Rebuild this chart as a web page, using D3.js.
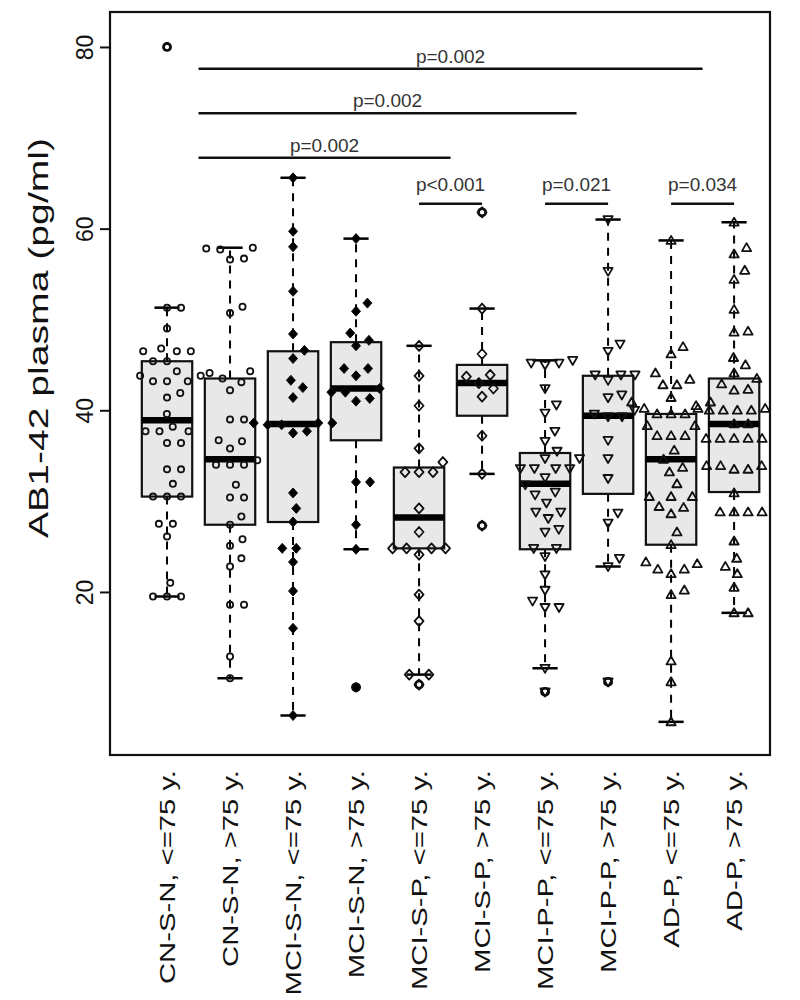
<!DOCTYPE html>
<html><head><meta charset="utf-8">
<script src="https://cdn.jsdelivr.net/npm/d3@7"></script>
<style>body{margin:0;background:#fff} svg{display:block}</style>
</head><body><svg id="c" width="800" height="1000"></svg>
<script>
// ---------------- DATA ----------------
const categories = ["CN-S-N, <=75 y.","CN-S-N, >75 y.","MCI-S-N, <=75 y.","MCI-S-N, >75 y.","MCI-S-P, <=75 y.","MCI-S-P, >75 y.","MCI-P-P, <=75 y.","MCI-P-P, >75 y.","AD-P, <=75 y.","AD-P, >75 y."];
const yTicks = [20, 40, 60, 80];
const yTitle = "AB1-42 plasma (pg/ml)";

const q1 =          [30.5, 27.4, 27.7, 36.7, 24.8, 39.4, 24.7, 30.8, 25.2, 31.0];
const medians =     [38.9, 34.6, 38.5, 42.4, 28.2, 43.0, 31.9, 39.4, 34.6, 38.5];
const q3 =          [45.4, 43.5, 46.5, 47.5, 33.7, 45.0, 35.3, 43.8, 39.6, 43.5];
const whiskerLow =  [19.5, 10.5,  6.4, 24.7, 10.9, 33.0, 11.6, 22.8,  5.7, 17.7];
const whiskerHigh = [51.3, 57.9, 65.6, 58.9, 47.1, 51.2, 45.5, 61.0, 58.7, 60.7];
const outliers = [[80], [], [], [9.5], [9.8], [61.8, 27.3], [9.0], [10.1], [], []];

const ptsCNSNyoung = [80, 51.3, 51.3, 49.0, 46.8, 46.5, 46.5, 46.5, 45.4, 45.4, 44.3, 43.8, 43.8, 43.2, 43.2, 43.2, 41.9, 41.4, 39.6, 38.2, 37.7, 37.7, 37.7, 36.4, 36.4, 33.5, 33.5, 31.9, 30.5, 30.5, 30.5, 27.5, 27.5, 26.1, 21.0, 19.5, 19.5, 19.5];
const ptsCNSNold = [57.9, 57.8, 57.7, 56.7, 56.6, 51.4, 50.7, 44.3, 44.1, 43.5, 43.1, 42.2, 39.0, 39.0, 36.7, 36.6, 35.8, 34.5, 34.0, 34.0, 34.0, 31.8, 30.4, 30.4, 28.3, 27.4, 25.8, 25.1, 23.7, 22.8, 18.6, 18.6, 12.9, 10.5];
const ptsMCISNyoung = [65.6, 59.7, 58.0, 53.1, 48.4, 46.6, 45.7, 43.3, 42.5, 41.4, 38.6, 38.6, 38.6, 38.4, 38.4, 37.7, 37.5, 30.9, 29.2, 27.7, 24.8, 24.8, 23.3, 20.1, 16.0, 6.4];
const ptsMCISNold = [58.9, 51.8, 50.9, 48.5, 47.7, 47.1, 44.6, 44.6, 43.8, 42.4, 42.0, 42.0, 41.3, 41.0, 32.1, 32.1, 27.4, 24.7, 9.5];
const ptsMCISPyoung = [47.1, 43.8, 40.5, 35.8, 34.3, 33.2, 33.2, 33.2, 29.2, 26.6, 24.8, 24.8, 24.8, 24.8, 24.1, 19.7, 16.8, 10.9, 10.9, 9.8];
const ptsMCISPold = [61.8, 51.2, 46.2, 43.9, 43.7, 43.0, 42.4, 41.5, 37.2, 33.0, 27.3];
const ptsMCIPPyoung = [45.5, 45.2, 45.2, 45.0, 42.4, 40.6, 39.7, 37.7, 36.6, 35.5, 34.7, 34.7, 33.6, 33.6, 33.6, 33.6, 32.6, 31.8, 31.0, 30.7, 29.8, 28.8, 28.8, 28.1, 26.9, 26.6, 24.8, 24.8, 23.9, 21.9, 20.2, 19.0, 18.3, 18.3, 11.6, 9.0];
const ptsMCIPPold = [61.0, 55.3, 47.3, 46.5, 43.9, 43.9, 43.9, 43.3, 41.7, 41.4, 40.0, 39.6, 39.3, 39.3, 36.7, 34.7, 32.5, 28.7, 27.6, 23.7, 22.8, 10.1];
const ptsADPyoung = [58.7, 47.0, 46.2, 44.1, 43.4, 42.8, 42.8, 41.4, 40.9, 40.9, 40.2, 40.2, 39.6, 39.6, 39.6, 38.3, 38.3, 37.2, 37.2, 37.2, 35.6, 34.6, 33.7, 33.2, 31.9, 30.5, 30.5, 30.5, 29.4, 29.3, 28.6, 26.6, 25.2, 23.3, 23.1, 22.5, 22.5, 22.0, 20.2, 19.7, 12.4, 10.1, 5.7];
const ptsADPold = [60.7, 57.9, 57.2, 55.4, 54.4, 51.1, 48.7, 48.6, 45.8, 45.0, 44.1, 43.5, 42.9, 42.3, 42.2, 40.5, 40.2, 40.0, 40.0, 40.0, 40.0, 38.5, 38.5, 36.9, 36.9, 36.9, 36.9, 36.9, 33.9, 33.9, 33.9, 33.5, 33.5, 30.9, 28.8, 28.8, 28.8, 28.8, 25.6, 23.7, 22.8, 22.0, 20.5, 17.7, 17.7];

// significance brackets (positions in category index units, 1-based)
const sigFrom  = [1.5, 1.5, 1.5, 5, 7, 9];
const sigTo    = [9.5, 7.5, 5.5, 6, 8, 10];
const sigLevel = [77.6, 72.7, 67.8, 62.75, 62.75, 62.75];
const sigLabelLevel = [78.2, 73.4, 68.4, 64.1, 64.1, 64.1];
const sigText  = ["p=0.002", "p=0.002", "p=0.002", "p<0.001", "p=0.021", "p=0.034"];

// ---------------- CHART ----------------
const allPoints = [ptsCNSNyoung, ptsCNSNold, ptsMCISNyoung, ptsMCISNold, ptsMCISPyoung, ptsMCISPold, ptsMCIPPyoung, ptsMCIPPold, ptsADPyoung, ptsADPold];
const symbolOf = ["circle","circle","diamondF","diamondF","diamond","diamond","triDown","triDown","triUp","triUp"];

const L = 110, R = 770, T = 12, B = 755;
const x = d3.scaleLinear().domain([0.095, 10.57]).range([L, R]);
const y = d3.scaleLinear().domain([2.05, 83.85]).range([B, T]);
const svg = d3.select("#c");
const FONT = "'Liberation Sans', Arial, Helvetica, sans-serif";

const unit = x(2) - x(1);
const boxW = 0.8 * unit, capW = 0.4 * unit;

const gBox = svg.append("g");
categories.forEach((c, i) => {
  const cx = x(i + 1);
  gBox.append("line").attr("x1", cx).attr("x2", cx).attr("y1", y(q3[i])).attr("y2", y(whiskerHigh[i]))
    .attr("stroke", "#000").attr("stroke-width", 2).attr("stroke-dasharray", "8,7");
  gBox.append("line").attr("x1", cx).attr("x2", cx).attr("y1", y(q1[i])).attr("y2", y(whiskerLow[i]))
    .attr("stroke", "#000").attr("stroke-width", 2).attr("stroke-dasharray", "8,7");
  [whiskerHigh[i], whiskerLow[i]].forEach(v => {
    gBox.append("line").attr("x1", cx - capW / 2).attr("x2", cx + capW / 2).attr("y1", y(v)).attr("y2", y(v))
      .attr("stroke", "#000").attr("stroke-width", 2.5);
  });
  gBox.append("rect").attr("x", cx - boxW / 2).attr("y", y(q3[i])).attr("width", boxW).attr("height", y(q1[i]) - y(q3[i]))
    .attr("fill", "#e8e8e8").attr("stroke", "#111").attr("stroke-width", 2.2);
  gBox.append("line").attr("x1", cx - boxW / 2).attr("x2", cx + boxW / 2).attr("y1", y(medians[i])).attr("y2", y(medians[i]))
    .attr("stroke", "#000").attr("stroke-width", 6.5);
  outliers[i].forEach(v => {
    gBox.append("circle").attr("cx", cx).attr("cy", y(v)).attr("r", 3.6)
      .attr("fill", symbolOf[i] === "diamondF" ? "#000" : "none").attr("stroke", "#000").attr("stroke-width", 2.6);
  });
});

// beeswarm (swarm) layout from values
function swarm(vals, d) {
  const order = vals.map((v, i) => i).sort((a, b) => vals[a] - vals[b]);
  const placed = [], off = new Array(vals.length);
  for (const i of order) {
    const py = y(vals[i]);
    const cands = [0];
    for (const p of placed) {
      const dy = Math.abs(p.y - py);
      if (dy < d) { const dx = Math.sqrt(d * d - dy * dy); cands.push(p.x + dx, p.x - dx); }
    }
    const ok = cands.filter(c => placed.every(p => { const dx = p.x - c, dy = p.y - py; return dx * dx + dy * dy >= d * d - 0.01; }));
    ok.sort((a, b) => Math.abs(a) - Math.abs(b) || b - a);
    off[i] = ok[0];
    placed.push({ x: ok[0], y: py });
  }
  return off;
}

function symPath(kind) {
  switch (kind) {
    case "diamond": case "diamondF": return "M0,-5L4.5,0L0,5L-4.5,0Z";
    case "triUp": return "M0,-4.6L4.6,3.4L-4.6,3.4Z";
    case "triDown": return "M0,4.6L4.6,-3.4L-4.6,-3.4Z";
  }
}

const gPts = svg.append("g");
allPoints.forEach((vals, i) => {
  const off = swarm(vals, 14);
  const cx = x(i + 1);
  const kind = symbolOf[i];
  vals.forEach((v, j) => {
    const px = cx + off[j], py = y(v);
    if (kind === "circle") {
      gPts.append("circle").attr("cx", px).attr("cy", py).attr("r", 3.1)
        .attr("fill", "none").attr("stroke", "#111").attr("stroke-width", 1.8);
    } else {
      gPts.append("path").attr("d", symPath(kind)).attr("transform", `translate(${px},${py})`)
        .attr("fill", kind === "diamondF" ? "#000" : "none").attr("stroke", "#111")
        .attr("stroke-width", kind === "diamondF" ? 1 : 1.8).attr("stroke-linejoin", "round");
    }
  });
});

// significance
const gSig = svg.append("g");
sigText.forEach((t, k) => {
  gSig.append("line").attr("x1", x(sigFrom[k])).attr("x2", x(sigTo[k])).attr("y1", y(sigLevel[k])).attr("y2", y(sigLevel[k]))
    .attr("stroke", "#111").attr("stroke-width", 2.5);
  gSig.append("text").attr("x", (x(sigFrom[k]) + x(sigTo[k])) / 2).attr("y", y(sigLabelLevel[k]))
    .attr("text-anchor", "middle").attr("font-family", FONT).attr("font-size", 19).attr("fill", "#333").text(t);
});

// frame
svg.append("rect").attr("x", L).attr("y", T).attr("width", R - L).attr("height", B - T)
  .attr("fill", "none").attr("stroke", "#111").attr("stroke-width", 2.2);

// y axis
const gy = svg.append("g").attr("transform", `translate(${L},0)`)
  .call(d3.axisLeft(y).tickValues(yTicks).tickSize(10).tickFormat(d3.format("d")));
gy.select(".domain").attr("d", `M0,${y(yTicks[0])}V${y(yTicks[yTicks.length - 1])}`).attr("stroke", "#111").attr("stroke-width", 2);
gy.selectAll(".tick line").attr("stroke", "#111").attr("stroke-width", 2);
gy.selectAll(".tick text").attr("font-family", FONT).attr("font-size", 23).attr("fill", "#111")
  .attr("x", null).attr("dy", null)
  .attr("transform", "translate(-17,0) rotate(-90)").attr("text-anchor", "middle");

// y title
svg.append("text").attr("transform", `translate(48,338) rotate(-90) scale(1.45,1)`)
  .attr("text-anchor", "middle").attr("font-family", FONT).attr("font-size", 27).attr("fill", "#111").text(yTitle);

// x labels
categories.forEach((c, i) => {
  svg.append("text").attr("transform", `translate(${x(i + 1) + 8},770) rotate(-90) scale(1.33,1)`)
    .attr("text-anchor", "end").attr("font-family", FONT).attr("font-size", 22).attr("fill", "#111").text(c);
});
</script></body></html>
